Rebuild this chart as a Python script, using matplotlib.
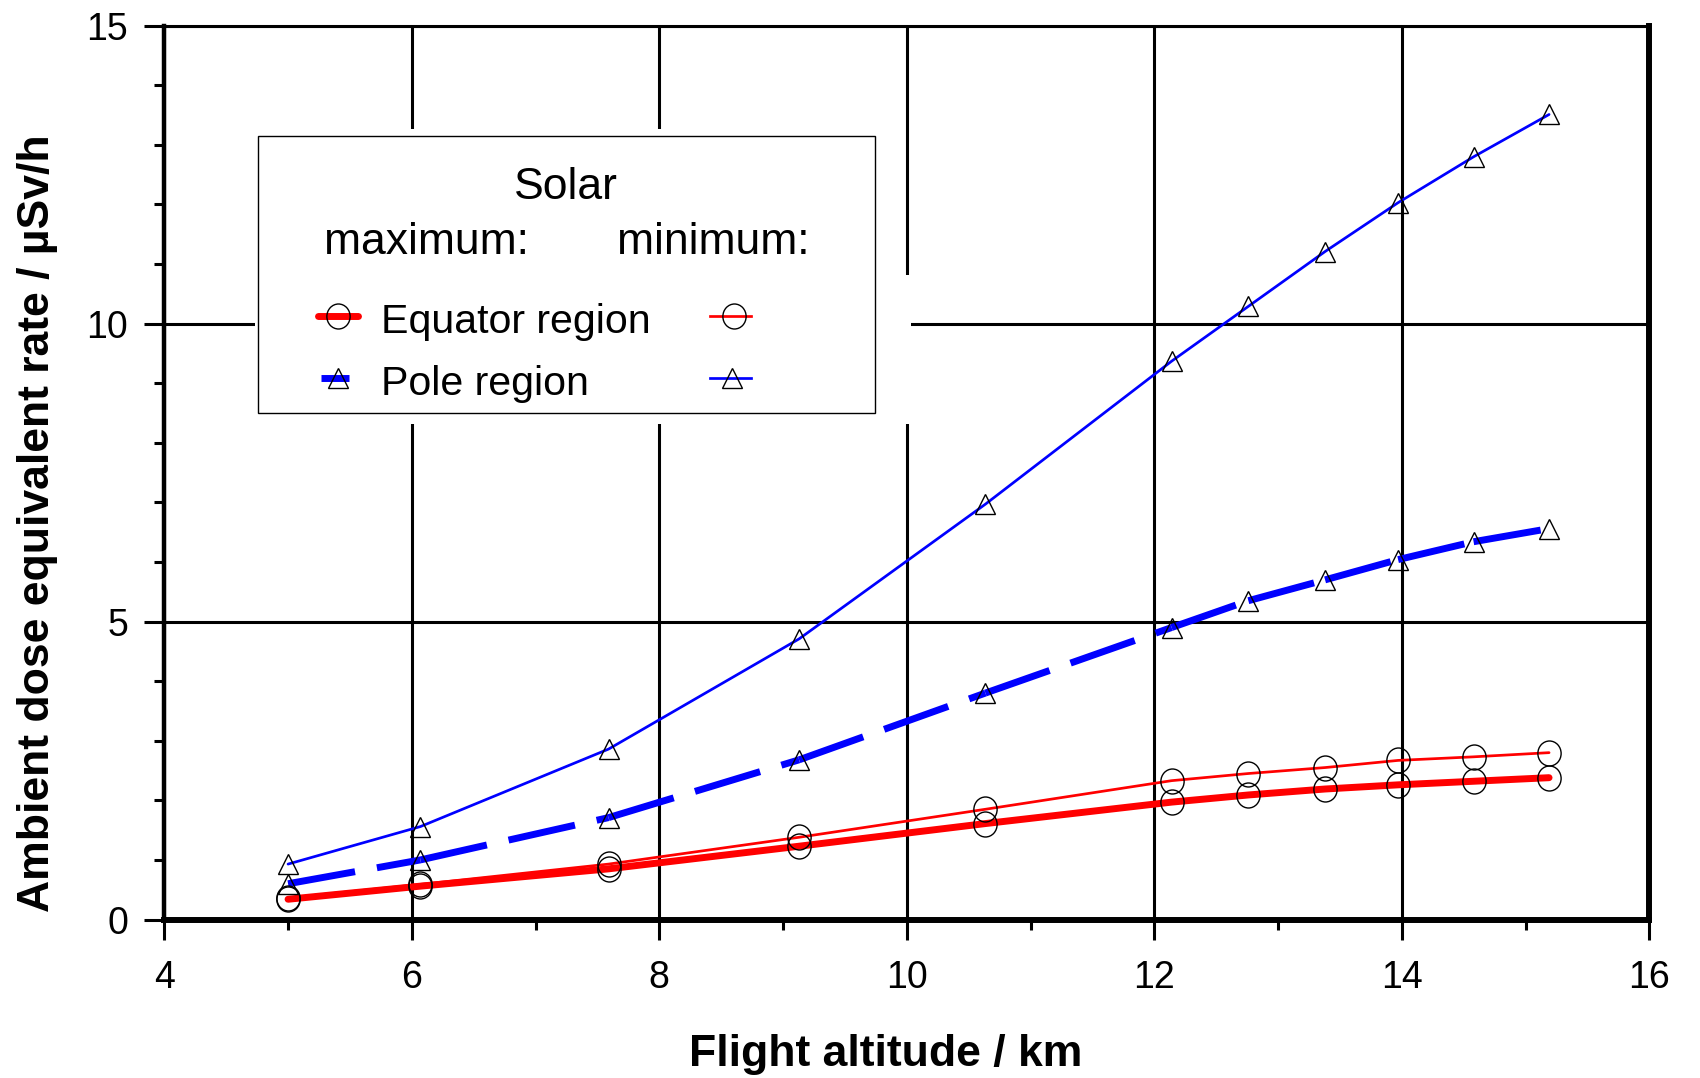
import matplotlib
matplotlib.use("Agg")
import matplotlib.pyplot as plt
from matplotlib.patches import Rectangle
from matplotlib.path import Path
from matplotlib.ticker import MultipleLocator

# ---------------- data ----------------
altitude_km = [5.00, 6.07, 7.59, 9.13, 10.635, 12.14, 12.76, 13.38, 13.97, 14.58, 15.19]
equator_max = [0.34, 0.56, 0.85, 1.23, 1.61, 1.97, 2.09, 2.19, 2.26, 2.32, 2.38]
equator_min = [0.36, 0.59, 0.93, 1.38, 1.85, 2.33, 2.45, 2.55, 2.67, 2.73, 2.80]
pole_max = [0.60, 1.00, 1.71, 2.68, 3.80, 4.90, 5.35, 5.70, 6.04, 6.34, 6.56]
pole_min = [0.93, 1.56, 2.86, 4.71, 6.97, 9.37, 10.29, 11.21, 12.03, 12.80, 13.51]

x_ticks = [4, 6, 8, 10, 12, 14, 16]
y_ticks = [0, 5, 10, 15]

title_text = "Solar"
col_titles = ["maximum:", "minimum:"]
row_labels = ["Equator region", "Pole region"]
x_label = "Flight altitude / km"
y_label = "Ambient dose equivalent rate / µSv/h"

# ---------------- style ----------------
plt.rcParams["font.family"] = ["Liberation Sans", "DejaVu Sans"]
plt.rcParams["lines.scale_dashes"] = False

RED = "#ff0000"
BLUE = "#0000ff"
LW_THICK = 5.0
LW_THIN = 1.95

ell = Path.unit_circle()
ellipse_marker = Path(ell.vertices * [0.93, 1.0], ell.codes)
CIRC = dict(marker=ellipse_marker, markersize=18, mfc="none", mec="black", mew=1.0, linestyle="none")
TRI = dict(marker="^", markersize=15, mfc="none", mec="black", mew=1.0, linestyle="none")

fig = plt.figure(figsize=(17, 10.78), dpi=100)
ax = fig.add_axes([0.09665, 0.14703, 0.87353, 0.82913])

ax.set_xlim(4, 16)
ax.set_ylim(0, 15)
ax.set_xticks(x_ticks)
ax.set_yticks(y_ticks)
ax.xaxis.set_minor_locator(MultipleLocator(1))
ax.yaxis.set_minor_locator(MultipleLocator(1))

ax.grid(True, which="major", color="black", linewidth=2.2)
ax.set_axisbelow(True)

ax.spines["left"].set_linewidth(3.2)
ax.spines["bottom"].set_linewidth(4.3)
ax.spines["right"].set_linewidth(4.3)
ax.spines["top"].set_linewidth(2.2)

ax.tick_params(which="major", direction="out", length=14.4, width=2.2, labelsize=27)
ax.tick_params(which="minor", direction="out", length=7.2, width=2.2)
ax.tick_params(axis="x", which="major", pad=15)
ax.tick_params(axis="y", which="major", pad=11.5)

# ---------------- data lines ----------------
ax.plot(altitude_km, equator_max, color=RED, lw=LW_THICK, solid_capstyle="round", zorder=3)
ax.plot(altitude_km, equator_min, color=RED, lw=LW_THIN, solid_capstyle="round", zorder=3)
ax.plot(altitude_km, pole_min, color=BLUE, lw=LW_THIN, solid_capstyle="round", zorder=3)
# thick dashed pole line: dash pattern restarts at every vertex
for i in range(len(altitude_km) - 1):
    ax.plot(altitude_km[i:i + 2], pole_max[i:i + 2], color=BLUE, lw=LW_THICK,
            dashes=(49, 16), dash_capstyle="butt", zorder=3)

ax.plot(altitude_km, equator_max, zorder=4, **CIRC)
ax.plot(altitude_km, equator_min, zorder=4, **CIRC)
ax.plot(altitude_km, pole_max, zorder=4, **TRI)
ax.plot(altitude_km, pole_min, zorder=4, **TRI)

# ---------------- legend (drawn in axes coordinates) ----------------
T = ax.transAxes
ax.add_patch(Rectangle((0.0611, 0.5544), 0.4820 - 0.0611, 0.8844 - 0.5544, transform=T,
                       facecolor="white", edgecolor="none", zorder=1))
ax.add_patch(Rectangle((0.4752, 0.5544), 0.5028 - 0.4752, 0.7211 - 0.5544, transform=T,
                       facecolor="white", edgecolor="none", zorder=1))
ax.add_patch(Rectangle((0.0631, 0.5667), 0.4786 - 0.0631, 0.8766 - 0.5667, transform=T,
                       facecolor="white", edgecolor="black", linewidth=1.0, zorder=5))

ax.text(0.2705, 0.8058, title_text, transform=T, ha="center", va="baseline", fontsize=32, zorder=6)
ax.text(0.1074, 0.7446, col_titles[0], transform=T, ha="left", va="baseline", fontsize=32, zorder=6)
ax.text(0.3049, 0.7446, col_titles[1], transform=T, ha="left", va="baseline", fontsize=32, zorder=6)
ax.text(0.1460, 0.6565, row_labels[0], transform=T, ha="left", va="baseline", fontsize=29.6, zorder=6)
ax.text(0.1460, 0.5868, row_labels[1], transform=T, ha="left", va="baseline", fontsize=29.6, zorder=6)

y_eq, y_po = 0.6751, 0.6055
ax.plot([0.1032, 0.1304], [y_eq, y_eq], transform=T, color=RED, lw=LW_THICK, solid_capstyle="round", zorder=6)
ax.plot([0.1168], [y_eq], transform=T, zorder=7, **CIRC)
ax.plot([0.1055, 0.1244], [y_po, y_po], transform=T, color=BLUE, lw=LW_THICK, solid_capstyle="butt", zorder=6)
ax.plot([0.1170], [y_po], transform=T, zorder=7, **TRI)
ax.plot([0.3675, 0.3949], [y_eq, y_eq], transform=T, color=RED, lw=LW_THIN, zorder=6)
ax.plot([0.3836], [y_eq], transform=T, zorder=7, **CIRC)
ax.plot([0.3675, 0.3949], [y_po, y_po], transform=T, color=BLUE, lw=LW_THIN, zorder=6)
ax.plot([0.3823], [y_po], transform=T, zorder=7, **TRI)

# ---------------- axis labels ----------------
ax.set_xlabel(x_label, fontsize=32, fontweight="bold")
ax.set_ylabel(y_label, fontsize=32, fontweight="bold")
ax.xaxis.set_label_coords(0.486, -0.128)
ax.yaxis.set_label_coords(-0.0719, 0.4436)

fig.savefig("out.png", dpi=100, facecolor="white")
